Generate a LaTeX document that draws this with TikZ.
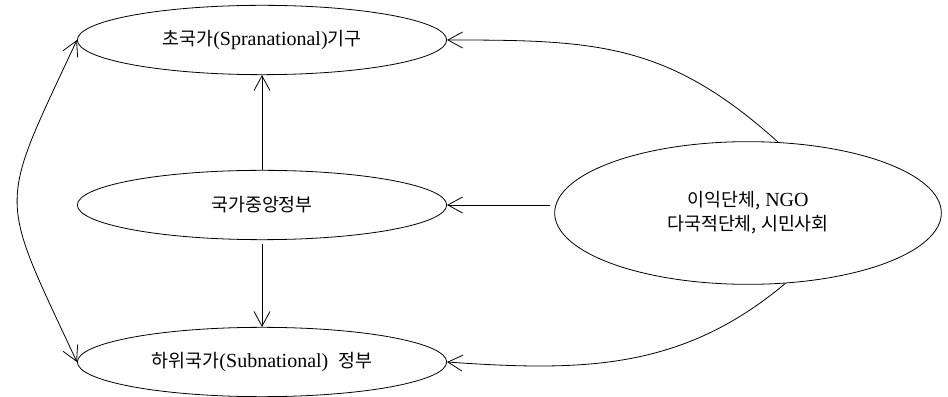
\documentclass[tikz,border=0pt]{standalone}
\usepackage{fontspec}
\setmainfont{Liberation Serif}
\newfontfamily\krfont{Noto Sans CJK KR}[Scale=0.92]
\newcommand{\hangul}[1]{{\krfont #1}}
\usetikzlibrary{shapes.geometric, arrows.meta}
\tikzset{
  govbox/.style={draw, ellipse, line width=0.6pt, inner sep=0pt, minimum width=277pt, minimum height=52pt, font=\fontsize{15pt}{18pt}\selectfont},
  link/.style={line width=0.6pt},
}

\begin{document}
\begin{tikzpicture}[x=0.75pt, y=0.75pt, >={Straight Barb[length=11pt,width=12pt]}]%
\useasboundingbox (0,0) rectangle (948,396);%
\node[govbox] (supra) at (262, 356) {\hangul{초국가}(Spranational)\hangul{기구}};%
\node[govbox] (central) at (262, 191) {\hangul{국가중앙정부}};%
\node[govbox] (sub) at (262, 34) {\hangul{하위국가}(Subnational)\ \ \hangul{정부}};%
\node[govbox, minimum width=290pt, minimum height=107pt, align=center] (civil) at (748, 183) {\hangul{이익단체,} NGO\\\hangul{다국적단체, 시민사회}};%
\draw[link, ->] (central.north) -- (supra.south);%
\draw[link, ->, shorten <=3pt] (central.south) -- (sub.north);%
\draw[link, ->, shorten <=3pt] (civil.west |- central.east) -- (central.east);%
\draw[link, ->] (civil.67) to[out=138, in=0, looseness=1.1] (supra.east);%
\draw[link, ->] (civil.-62) to[out=220, in=-4] (sub.east);%
\draw[link, <->] (supra.west) to[out=245, in=115, looseness=1.5] (sub.west);%
\end{tikzpicture}
\end{document}
